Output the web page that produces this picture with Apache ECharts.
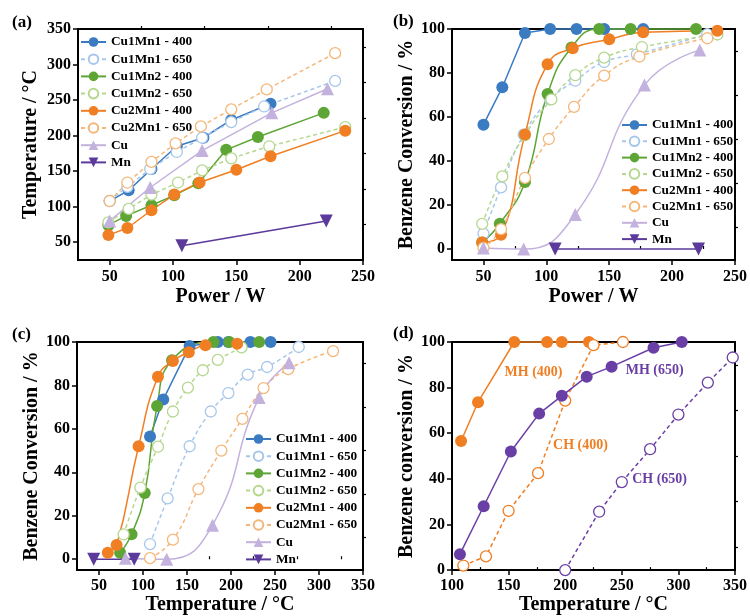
<!DOCTYPE html>
<html>
<head>
<meta charset="utf-8">
<script src="https://cdn.jsdelivr.net/npm/echarts@6/dist/echarts.min.js"></script>
<style>
  html, body { margin: 0; padding: 0; background: #fff; }
  #chart { width: 750px; height: 616px; }
</style>
</head>
<body>
<div id="chart"></div>
<script>
// ---- data ----
// power (W), temperature (degC), benzene conversion (%)
const p11_400 = [50, 65, 83, 103, 124, 146, 177];
const t11_400 = [108, 123, 153, 185, 197, 222, 245];
const c11_400 = [56.5, 73.5, 98.2, 100, 100, 100, 100];

const p11_650 = [50, 64, 82, 103, 123, 146, 172, 228];
const t11_650 = [108, 128, 153, 177, 197, 219, 241, 277];
const c11_650 = [7, 28, 52, 68, 76.5, 85, 88.5, 97.7];

const p12_400 = [49, 63, 83, 101, 120, 142, 167, 219];
const t12_400 = [74, 87, 102, 116, 133, 180, 198, 232];
const c12_400 = [3, 11.5, 30.5, 70.5, 91.6, 100, 100, 100];

const p12_650 = [49, 65, 83, 104, 123, 146, 176, 236];
const t12_650 = [78, 97, 117, 134, 151, 168, 185, 212];
const c12_650 = [11.4, 33, 51.8, 68, 79, 87, 91.8, 97.5];

const p21_400 = [49, 64, 83, 101, 121, 150, 177, 236];
const t21_400 = [60, 70, 95, 117, 134, 152, 171, 207];
const c21_400 = [3, 6.5, 52, 84, 91.3, 95.3, 98.5, 99.2];

const p21_650 = [50, 64, 83, 102, 122, 146, 174, 228];
const t21_650 = [108, 134, 163, 189, 213, 237, 265, 316];
const c21_650 = [0.5, 9, 32.3, 50, 64.6, 78.8, 87.5, 95.8];

const pCu = [50, 82, 123, 178, 222];
const tCu = [80, 127, 179, 232, 266];
const cCu = [0.5, 0, 15.7, 74.5, 90.4];

const pMn = [107, 221];
const tMn = [45, 80];
const tMnC = [44, 90];
const cMn = [0, 0];

// panel (d)
const tMH400 = [108, 123, 155, 184, 197, 221];
const cMH400 = [56.6, 73.6, 100, 100, 100, 100];
const tCH400 = [110, 130, 150, 176, 200, 225, 251];
const cCH400 = [2, 6, 26, 42.5, 74.3, 98.6, 100];
const tMH650 = [107, 128, 152, 177, 197, 219, 241, 278, 303];
const cMH650 = [7, 28, 52, 68.6, 76.4, 84.8, 89.2, 97.5, 100];
const tCH650 = [200, 230, 250, 275, 300, 326, 348];
const cCH650 = [0, 25.6, 38.6, 53, 68.2, 82.2, 93.2];

// tick labels
const powerTicks = [50, 100, 150, 200, 250];
const powerMinor = [75, 125, 175, 225];
const tempTicksA = [50, 100, 150, 200, 250, 300, 350];
const tempMinorA = [75, 125, 175, 225, 275, 325];
const convTicks = [0, 20, 40, 60, 80, 100];
const convMinor = [10, 30, 50, 70, 90];
const tempTicksC = [50, 100, 150, 200, 250, 300, 350];
const tempMinorC = [75, 125, 175, 225, 275, 325];
const tempTicksD = [100, 150, 200, 250, 300, 350];
const tempMinorD = [125, 175, 225, 275, 325];

const names = ['Cu1Mn1 - 400', 'Cu1Mn1 - 650', 'Cu1Mn2 - 400', 'Cu1Mn2 - 650',
  'Cu2Mn1 - 400', 'Cu2Mn1 - 650', 'Cu', 'Mn'];

const FONT = 'Liberation Serif';
const STY = {
  'Cu1Mn1 - 400': { color: '#3b7bc2', symbol: 'circle', size: 12 },
  'Cu1Mn1 - 650': { color: '#a7c7ea', symbol: 'circle', size: 11, open: true },
  'Cu1Mn2 - 400': { color: '#5da534', symbol: 'circle', size: 12 },
  'Cu1Mn2 - 650': { color: '#b5d78e', symbol: 'circle', size: 11, open: true },
  'Cu2Mn1 - 400': { color: '#f07e22', symbol: 'circle', size: 12 },
  'Cu2Mn1 - 650': { color: '#f4b77a', symbol: 'circle', size: 11, open: true },
  'Cu': { color: '#c3b2de', symbol: 'triangle', size: 13 },
  'Mn': { color: '#5b3a9c', symbol: 'triangle', size: 13, rot: 180 },
  'MH (400)': { color: '#f07e22', symbol: 'circle', size: 12 },
  'CH (400)': { color: '#f07e22', symbol: 'circle', size: 11, open: true },
  'MH (650)': { color: '#6a3fa5', symbol: 'circle', size: 12 },
  'CH (650)': { color: '#6a3fa5', symbol: 'circle', size: 11, open: true }
};

const grids = [
  { left: 78, top: 29, width: 285, height: 231 },
  { left: 452, top: 29, width: 286, height: 231 },
  { left: 77, top: 342, width: 286, height: 231 },
  { left: 452, top: 342, width: 286, height: 230 }
];

const txt = (size) => ({ fontFamily: FONT, fontWeight: 'bold', fontSize: size, color: '#000' });

function mainAxis(g, min, max, ticks, name, gap, margin) {
  return {
    type: 'value', gridIndex: g, min: min, max: max,
    name: name, nameLocation: 'middle', nameGap: gap, nameTextStyle: txt(20),
    axisLine: { show: true, onZero: false, lineStyle: { color: '#000', width: 2 } },
    axisTick: { show: true, length: 5, customValues: ticks, lineStyle: { color: '#000', width: 1.5 } },
    axisLabel: Object.assign({ customValues: ticks, margin: margin }, txt(16)),
    splitLine: { show: false }
  };
}
function minorAxis(g, min, max, ticks) {
  return {
    type: 'value', gridIndex: g, min: min, max: max,
    axisLine: { show: false },
    axisTick: { show: true, length: 3, customValues: ticks, lineStyle: { color: '#000', width: 1.2 } },
    axisLabel: { show: false },
    splitLine: { show: false }
  };
}

function mk(name, g, xs, ys, smooth) {
  const s = STY[name];
  return {
    name: name, type: 'line', xAxisIndex: g * 2, yAxisIndex: g * 2,
    smooth: smooth, clip: false,
    data: xs.map((x, i) => [x, ys[i]]),
    symbol: s.symbol, symbolSize: s.size, symbolRotate: s.rot || 0,
    itemStyle: s.open ? { color: '#fff', borderColor: s.color, borderWidth: 1.3 } : { color: s.color },
    lineStyle: { color: s.color, width: 1.5, type: s.open ? [4, 3] : 'solid' },
    emphasis: { disabled: true }
  };
}

function note(series, text, x, y) {
  series.markPoint = {
    symbol: 'circle', symbolSize: 1, itemStyle: { color: 'rgba(0,0,0,0)' },
    label: Object.assign({ show: true, position: 'inside', formatter: text }, txt(14), { color: series.lineStyle.color }),
    data: [{ coord: [x, y] }]
  };
  return series;
}

function legend(left, top, gap) {
  return {
    orient: 'vertical', left: left, top: top, padding: 0,
    itemWidth: 25, itemHeight: 12, itemGap: gap,
    selectedMode: false, data: names,
    textStyle: Object.assign({ lineHeight: 14 }, txt(13.3))
  };
}

const xAxis = [
  mainAxis(0, 25, 250, powerTicks, 'Power / W', 27, 9), minorAxis(0, 25, 250, powerMinor),
  mainAxis(1, 25, 250, powerTicks, 'Power / W', 27, 9), minorAxis(1, 25, 250, powerMinor),
  mainAxis(2, 25, 350, tempTicksC, 'Temperature / \u00b0C', 24, 8), minorAxis(2, 25, 350, tempMinorC),
  mainAxis(3, 100, 350, tempTicksD, 'Temperature / \u00b0C', 24, 8), minorAxis(3, 100, 350, tempMinorD)
];
const yAxis = [
  mainAxis(0, 25, 350, tempTicksA, 'Temperature / \u00b0C', 37, 7), minorAxis(0, 25, 350, tempMinorA),
  mainAxis(1, -5, 100, convTicks, 'Benzene Conversion / %', 33, 7), minorAxis(1, -5, 100, convMinor),
  mainAxis(2, -5, 100, convTicks, 'Benzene Conversion / %', 33, 7), minorAxis(2, -5, 100, convMinor),
  mainAxis(3, 0, 100, convTicks, 'Benzene conversion / %', 33, 7), minorAxis(3, 0, 100, convMinor)
];

const series = [
  // (a) temperature vs power
  mk('Cu1Mn1 - 400', 0, p11_400, t11_400, false),
  mk('Cu1Mn1 - 650', 0, p11_650, t11_650, false),
  mk('Cu1Mn2 - 400', 0, p12_400, t12_400, false),
  mk('Cu1Mn2 - 650', 0, p12_650, t12_650, false),
  mk('Cu2Mn1 - 400', 0, p21_400, t21_400, false),
  mk('Cu2Mn1 - 650', 0, p21_650, t21_650, false),
  mk('Cu', 0, pCu, tCu, false),
  mk('Mn', 0, pMn, tMn, false),
  // (b) conversion vs power
  mk('Cu1Mn1 - 400', 1, p11_400, c11_400, false),
  mk('Cu1Mn1 - 650', 1, p11_650, c11_650, true),
  mk('Cu1Mn2 - 400', 1, p12_400, c12_400, true),
  mk('Cu1Mn2 - 650', 1, p12_650, c12_650, true),
  mk('Cu2Mn1 - 400', 1, p21_400, c21_400, true),
  mk('Cu2Mn1 - 650', 1, p21_650, c21_650, true),
  mk('Cu', 1, pCu, cCu, true),
  mk('Mn', 1, pMn, cMn, false),
  // (c) conversion vs temperature
  mk('Cu1Mn1 - 400', 2, t11_400, c11_400, false),
  mk('Cu1Mn1 - 650', 2, t11_650, c11_650, true),
  mk('Cu1Mn2 - 400', 2, t12_400, c12_400, true),
  mk('Cu1Mn2 - 650', 2, t12_650, c12_650, true),
  mk('Cu2Mn1 - 400', 2, t21_400, c21_400, true),
  mk('Cu2Mn1 - 650', 2, t21_650, c21_650, true),
  mk('Cu', 2, tCu, cCu, true),
  mk('Mn', 2, tMnC, cMn, false),
  // (d) MH vs CH
  note(mk('MH (400)', 3, tMH400, cMH400, false), 'MH (400)', 172, 86.6),
  note(mk('CH (400)', 3, tCH400, cCH400, false), 'CH (400)', 213.5, 54.5),
  note(mk('MH (650)', 3, tMH650, cMH650, false), 'MH (650)', 279, 87.4),
  note(mk('CH (650)', 3, tCH650, cCH650, false), 'CH (650)', 283.4, 39.7)
];

const chart = echarts.init(document.getElementById('chart'), null, { renderer: 'canvas' });
chart.setOption({
  animation: false,
  backgroundColor: '#fff',
  grid: grids.map(g => Object.assign({ show: true, borderColor: '#000', borderWidth: 2, containLabel: false }, g)),
  xAxis: xAxis,
  yAxis: yAxis,
  legend: [legend(80, 35, 3.2), legend(621, 118, 2.3), legend(245, 432, 3.2)],
  graphic: [
    { type: 'text', left: 12, top: 14, style: Object.assign({ text: '(a)' }, txt(17), { fill: '#000' }) },
    { type: 'text', left: 393, top: 13, style: Object.assign({ text: '(b)' }, txt(17), { fill: '#000' }) },
    { type: 'text', left: 12, top: 326, style: Object.assign({ text: '(c)' }, txt(17), { fill: '#000' }) },
    { type: 'text', left: 393, top: 325, style: Object.assign({ text: '(d)' }, txt(17), { fill: '#000' }) }
  ],
  series: series
});
window.addEventListener('resize', () => chart.resize());
</script>
</body>
</html>
